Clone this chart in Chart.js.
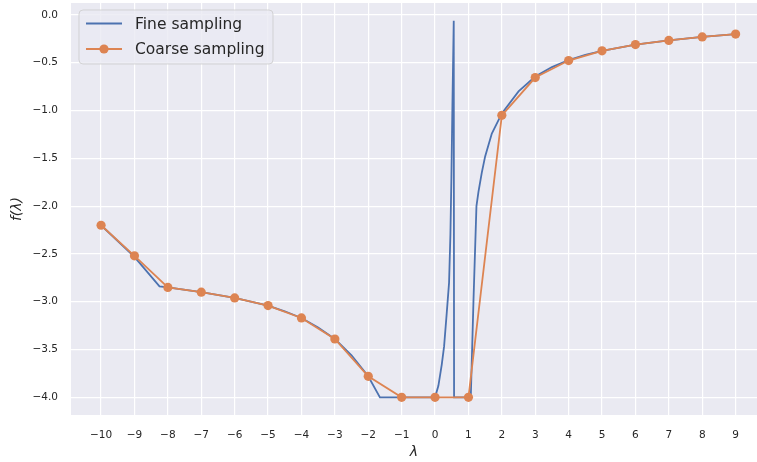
<!DOCTYPE html>
<html>
<head>
<meta charset="utf-8">
<script src="https://cdn.jsdelivr.net/npm/chart.js@4.4.1/dist/chart.umd.min.js"></script>
<style>
  html, body { margin: 0; padding: 0; background: #ffffff; }
  #wrap { width: 757px; height: 462px; }
</style>
</head>
<body>
<div id="wrap"><canvas id="chart" width="757" height="462"></canvas></div>
<script>
// Fine sampling
const fineLambda = [-10, -9, -8.25, -8, -7, -6, -5, -4.5, -4, -3.5, -3, -2.5, -2, -1.65, -1, 0,
    0.1, 0.2, 0.27, 0.35, 0.42, 0.46, 0.49, 0.52, 0.56, 0.57, 1.07, 1.15, 1.24, 1.3, 1.4, 1.5, 1.7,
    2, 2.5, 3, 3.5, 4, 4.5, 5, 6, 7, 8, 9];
const fineValues = [-2.2, -2.53, -2.84, -2.85, -2.9, -2.96, -3.04, -3.1, -3.17, -3.27, -3.39, -3.56, -3.78, -4.0, -4.0, -4.0,
    -3.88, -3.66, -3.47, -3.12, -2.8, -2.3, -1.7, -0.95, -0.06, -4.0, -4.0, -3.0, -2.0, -1.85, -1.65, -1.48, -1.24,
    -1.03, -0.8, -0.645, -0.545, -0.472, -0.418, -0.375, -0.31, -0.265, -0.23, -0.2];

// Coarse sampling, one point per integer
const coarseLambda = [-10, -9, -8, -7, -6, -5, -4, -3, -2, -1, 0, 1, 2, 3, 4, 5, 6, 7, 8, 9];
const coarseValues = [-2.2, -2.52, -2.85, -2.9, -2.96, -3.04, -3.17, -3.39, -3.78, -4.0, -4.0, -4.0,
    -1.05, -0.655, -0.477, -0.375, -0.31, -0.267, -0.23, -0.2];

const xTicks = [-10, -9, -8, -7, -6, -5, -4, -3, -2, -1, 0, 1, 2, 3, 4, 5, 6, 7, 8, 9];
const yTicks = [-4.0, -3.5, -3.0, -2.5, -2.0, -1.5, -1.0, -0.5, 0.0];

const blue = '#4C72B0';
const orange = '#DD8452';
const textColor = '#262626';
const tickFont = { family: '"DejaVu Sans", sans-serif', size: 10.5 };
const titleFont = { family: '"DejaVu Sans", sans-serif', size: 14, style: 'italic' };

function minus(s) {
    return String(s).replace('-', '\u2212');
}

// plot background like seaborn darkgrid
const bgPlugin = {
    id: 'bg',
    beforeDraw(chart) {
        const a = chart.chartArea;
        const ctx = chart.ctx;
        ctx.save();
        ctx.fillStyle = '#EAEAF2';
        ctx.fillRect(a.left, a.top, a.right - a.left, a.bottom - a.top);
        ctx.restore();
    }
};

// legend box in the upper left corner
const legendPlugin = {
    id: 'boxLegend',
    afterDraw(chart) {
        const ctx = chart.ctx;
        const x = 79, y = 10, w = 194, h = 54, r = 4;
        ctx.save();
        ctx.beginPath();
        ctx.roundRect(x, y, w, h, r);
        ctx.fillStyle = 'rgba(234,234,242,0.8)';
        ctx.fill();
        ctx.strokeStyle = 'rgba(204,204,204,0.8)';
        ctx.lineWidth = 1;
        ctx.stroke();

        ctx.font = '15.5px "DejaVu Sans", sans-serif';
        ctx.textBaseline = 'middle';
        chart.data.datasets.forEach((ds, i) => {
            const ly = 23.5 + i * 25.5;
            ctx.beginPath();
            ctx.moveTo(86, ly);
            ctx.lineTo(122, ly);
            ctx.strokeStyle = ds.borderColor;
            ctx.lineWidth = 1.8;
            ctx.stroke();
            if (ds.pointRadius > 0) {
                ctx.beginPath();
                ctx.arc(104, ly, 4.6, 0, Math.PI * 2);
                ctx.fillStyle = ds.borderColor;
                ctx.fill();
            }
            ctx.fillStyle = textColor;
            ctx.fillText(ds.label, 135, ly + 1);
        });
        ctx.restore();
    }
};

function initChart() {
    const ctx = document.getElementById('chart').getContext('2d');
    new Chart(ctx, {
        type: 'line',
        data: {
            datasets: [{
                label: 'Fine sampling',
                data: fineLambda.map((l, i) => ({ x: l, y: fineValues[i] })),
                borderColor: blue,
                backgroundColor: blue,
                borderWidth: 1.8,
                pointRadius: 0,
                tension: 0,
                order: 1
            }, {
                label: 'Coarse sampling',
                data: coarseLambda.map((l, i) => ({ x: l, y: coarseValues[i] })),
                borderColor: orange,
                backgroundColor: orange,
                borderWidth: 1.8,
                pointRadius: 4.6,
                pointBorderWidth: 0,
                tension: 0,
                order: 0
            }]
        },
        options: {
            responsive: false,
            animation: false,
            layout: { autoPadding: false, padding: { top: 3, right: 0, left: 0, bottom: 0 } },
            plugins: {
                legend: { display: false },
                tooltip: { enabled: false }
            },
            scales: {
                x: {
                    type: 'linear',
                    min: -10.9,
                    max: 9.64,
                    afterBuildTicks: s => { s.ticks = xTicks.map(v => ({ value: v })); },
                    afterFit: s => {
                        s.height = 47;
                        s.paddingLeft = 0;
                        s.paddingRight = 0;
                    },
                    border: { display: false },
                    grid: { color: '#ffffff', lineWidth: 1.2, drawTicks: false },
                    ticks: {
                        padding: 14,
                        color: textColor,
                        font: tickFont,
                        maxRotation: 0,
                        autoSkip: false,
                        callback: v => minus(v)
                    },
                    title: {
                        display: true,
                        text: '\u03bb',
                        color: textColor,
                        font: titleFont,
                        padding: { top: 0, bottom: 1 }
                    }
                },
                y: {
                    type: 'linear',
                    min: -4.185,
                    max: 0.125,
                    afterBuildTicks: s => { s.ticks = yTicks.map(v => ({ value: v })); },
                    afterFit: s => {
                        s.width = 71;
                        s.paddingTop = 0;
                        s.paddingBottom = 0;
                    },
                    border: { display: false },
                    grid: { color: '#ffffff', lineWidth: 1.2, drawTicks: false },
                    ticks: {
                        padding: 13,
                        color: textColor,
                        font: tickFont,
                        callback: v => minus(v.toFixed(1))
                    },
                    title: {
                        display: true,
                        text: 'f(\u03bb)',
                        color: textColor,
                        font: titleFont,
                        padding: { top: 9, bottom: 0 }
                    }
                }
            }
        },
        plugins: [bgPlugin, legendPlugin]
    });
}

document.addEventListener('DOMContentLoaded', () => {
    initChart();
});
</script>
</body>
</html>
